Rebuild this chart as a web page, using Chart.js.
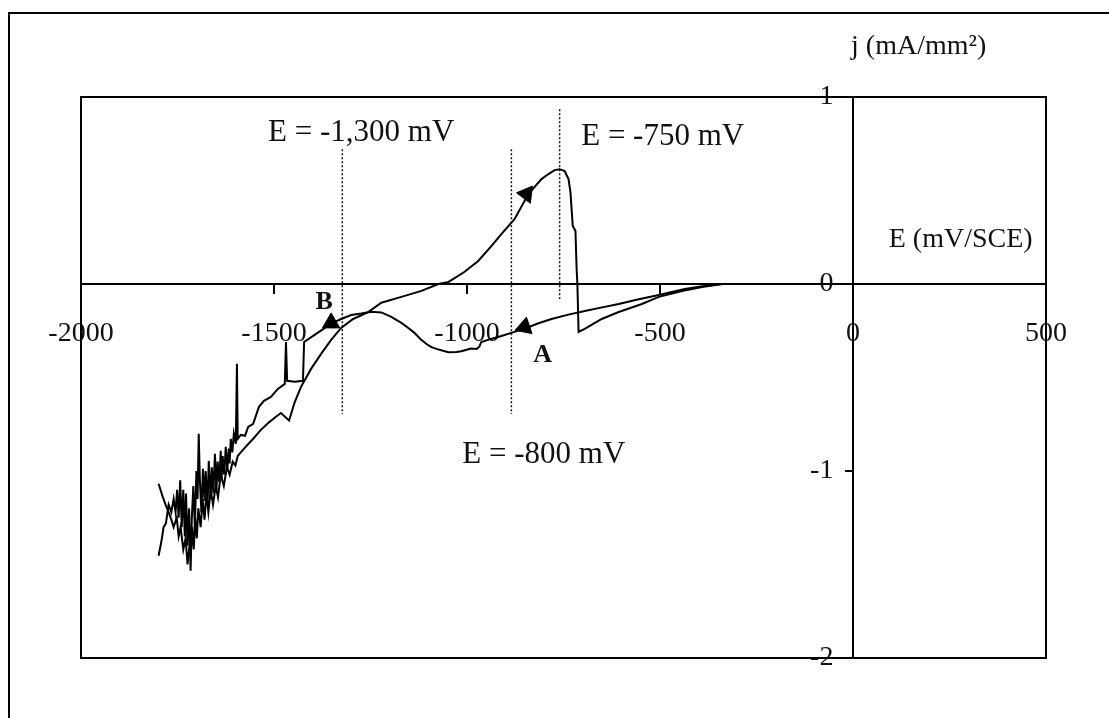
<!DOCTYPE html>
<html><head><meta charset="utf-8">
<script src="https://cdn.jsdelivr.net/npm/chart.js@4/dist/chart.umd.min.js"></script>
<style>html,body{margin:0;padding:0;background:#fff}canvas{display:block}</style>
</head><body>
<canvas id="c" width="1109" height="718"></canvas>
<script>
// ---- tick values ----
const xTickValues = [-2000, -1500, -1000, -500, 0, 500];
const yTickValues = [-2, -1, 0, 1];

// ---- forward (cathodic) scan: E in mV/SCE, j in mA/mm2 ----
const cathodicE = [-339,-390,-436,-503,-555,-607,-650,-695,-740,-781,-815,-846,-877,-911,-940,-963,-968,-975,-990,-1001,-1015,-1027,-1048,-1060,-1079,-1092,-1105,-1120,-1137,-1152,-1170,-1196,-1222,-1248,-1274,-1300,-1326,-1352,-1391,-1422,-1425,-1446,-1466,-1469,-1472,-1490,-1508,-1526,-1539,-1554,-1567,-1575,-1586,-1594,-1596,-1599,-1604,-1608,-1612,-1615,-1617,-1621,-1625,-1629,-1633,-1636,-1638,-1642,-1646,-1649,-1653,-1657,-1661,-1664,-1669,-1672,-1677,-1680,-1684,-1688,-1692,-1695,-1698,-1701,-1705,-1709,-1713,-1716,-1720,-1724,-1728,-1731,-1735,-1739,-1743,-1747,-1751,-1755,-1760,-1766,-1773,-1780,-1786,-1792,-1799];
const cathodicJ = [0,-0.012,-0.027,-0.059,-0.082,-0.107,-0.125,-0.144,-0.165,-0.187,-0.21,-0.235,-0.256,-0.278,-0.295,-0.31,-0.335,-0.347,-0.345,-0.352,-0.36,-0.363,-0.365,-0.358,-0.347,-0.338,-0.321,-0.295,-0.26,-0.235,-0.208,-0.176,-0.152,-0.148,-0.158,-0.166,-0.187,-0.212,-0.267,-0.31,-0.518,-0.523,-0.518,-0.31,-0.534,-0.561,-0.604,-0.625,-0.657,-0.748,-0.764,-0.812,-0.807,-0.828,-0.427,-0.855,-0.8,-0.9,-0.828,-0.96,-0.88,-0.99,-0.871,-1.02,-0.92,-1.05,-0.892,-1.06,-0.95,-1.1,-0.908,-1.12,-0.98,-1.15,-0.946,-1.18,-1.0,-1.16,-0.988,-1.22,-1.05,-0.801,-1.149,-1.0,-1.3,-1.08,-1.255,-1.533,-1.2,-1.4,-1.12,-1.35,-1.1,-1.3,-1.05,-1.25,-1.1,-1.22,-1.15,-1.22,-1.18,-1.28,-1.3,-1.38,-1.453];

// ---- reverse (anodic) scan ----
const anodicE = [-1799,-1794,-1788,-1781,-1773,-1766,-1760,-1752,-1747,-1742,-1735,-1729,-1724,-1719,-1716,-1712,-1708,-1704,-1700,-1696,-1690,-1685,-1680,-1675,-1670,-1664,-1658,-1651,-1645,-1638,-1630,-1622,-1615,-1607,-1600,-1594,-1586,-1573,-1555,-1534,-1513,-1495,-1482,-1461,-1446,-1430,-1404,-1378,-1352,-1326,-1295,-1256,-1222,-1170,-1118,-1074,-1048,-1007,-971,-937,-911,-877,-841,-807,-789,-773,-760,-747,-737,-732,-726,-719,-716,-714,-711,-695,-651,-607,-547,-503,-443,-391,-339];
const anodicJ = [-1.068,-1.1,-1.14,-1.18,-1.22,-1.26,-1.3,-1.25,-1.35,-1.3,-1.42,-1.36,-1.5,-1.4,-1.46,-1.3,-1.42,-1.25,-1.36,-1.2,-1.3,-1.15,-1.26,-1.12,-1.22,-1.1,-1.18,-1.08,-1.14,-1.02,-1.08,-0.98,-1.02,-0.95,-0.97,-0.92,-0.9,-0.87,-0.83,-0.78,-0.74,-0.71,-0.69,-0.73,-0.63,-0.55,-0.454,-0.374,-0.299,-0.235,-0.187,-0.15,-0.1,-0.069,-0.037,0,0.011,0.064,0.123,0.203,0.267,0.347,0.481,0.561,0.588,0.609,0.614,0.604,0.561,0.491,0.31,0.283,0.08,0,-0.256,-0.24,-0.187,-0.15,-0.107,-0.069,-0.037,-0.016,0];

// ---- scan-direction arrowheads ----
const arrowE = [-1352, -851, -846];
const arrowJ = [-0.208, -0.230, 0.481];

// ---- dotted potential markers ----
const guideE = [-1323, -885, -760];
const guideTop = [0.72, 0.72, 0.935];
const guideBottom = [-0.695, -0.695, -0.08];

// ---- text annotations ----
const noteTexts = ['E = -1,300 mV', 'E = -750 mV', 'E = -800 mV'];
const noteE = [-1274, -493, -801];
const noteJ = [0.807, 0.787, -0.913];
const pointLabels = ['B', 'A'];
const pointLabelE = [-1370, -804];
const pointLabelJ = [-0.096, -0.379];
const axisTitles = ['j (mA/mm\u00B2)', 'E (mV/SCE)'];
const axisTitleE = [170, 279];
const axisTitleJ = [1.27, 0.235];

const pts = (xs, ys) => xs.map((x, i) => ({x: x, y: ys[i]}));
const SERIF = '"Liberation Serif", "Times New Roman", serif';

const datasets = [
  {data: pts(cathodicE, cathodicJ), showLine: true, borderColor: '#000', borderWidth: 2, pointRadius: 0, tension: 0},
  {data: pts(anodicE, anodicJ), showLine: true, borderColor: '#000', borderWidth: 2, pointRadius: 0, tension: 0}
];
guideE.forEach((e, i) => {
  datasets.push({data: [{x: e, y: guideTop[i]}, {x: e, y: guideBottom[i]}], showLine: true,
    borderColor: '#111', borderWidth: 1.5, borderDash: [2, 2], pointRadius: 0});
});
datasets.push({data: pts(arrowE, arrowJ), showLine: false, pointStyle: 'triangle', pointRadius: 10,
  pointRotation: [0, 251, 37], backgroundColor: '#000', borderColor: '#000', borderWidth: 1});

const decor = {
  id: 'decor',
  beforeDatasetsDraw(chart) {
    const {ctx, chartArea: a} = chart;
    ctx.save();
    ctx.strokeStyle = '#000';
    ctx.lineWidth = 2;
    ctx.strokeRect(a.left, a.top, a.right - a.left, a.bottom - a.top);
    ctx.beginPath();
    ctx.moveTo(9, 718); ctx.lineTo(9, 13); ctx.lineTo(1109, 13);
    ctx.stroke();
    ctx.restore();
  },
  afterDraw(chart) {
    const {ctx} = chart;
    const sx = chart.scales.x, sy = chart.scales.y;
    ctx.save();
    ctx.fillStyle = '#111';
    ctx.textAlign = 'center';
    ctx.textBaseline = 'middle';
    ctx.font = '31px ' + SERIF;
    noteTexts.forEach((t, i) => ctx.fillText(t, sx.getPixelForValue(noteE[i]), sy.getPixelForValue(noteJ[i])));
    ctx.font = 'bold 26px ' + SERIF;
    pointLabels.forEach((t, i) => ctx.fillText(t, sx.getPixelForValue(pointLabelE[i]), sy.getPixelForValue(pointLabelJ[i])));
    ctx.font = '28px ' + SERIF;
    axisTitles.forEach((t, i) => ctx.fillText(t, sx.getPixelForValue(axisTitleE[i]), sy.getPixelForValue(axisTitleJ[i])));
    ctx.restore();
  }
};

new Chart(document.getElementById('c'), {
  type: 'scatter',
  data: {datasets: datasets},
  plugins: [decor],
  options: {
    responsive: false,
    animation: false,
    events: [],
    layout: {padding: {left: 81, top: 97, right: 63, bottom: 60}},
    plugins: {legend: {display: false}, tooltip: {enabled: false}},
    scales: {
      x: {
        type: 'linear', min: -2000, max: 500, position: {y: 0},
        afterFit: s => { s.height = 0; },
        afterBuildTicks: s => { s.ticks = xTickValues.map(v => ({value: v})); },
        grid: {display: true, drawOnChartArea: false, drawTicks: true, tickLength: 9, color: '#000', lineWidth: 2},
        border: {display: true, color: '#000', width: 2},
        ticks: {color: '#111', font: {family: SERIF, size: 28}, padding: 24, maxRotation: 0, autoSkip: false,
          callback: v => String(v)}
      },
      y: {
        type: 'linear', min: -2, max: 1, position: {x: 0},
        afterFit: s => { s.width = 0; },
        afterBuildTicks: s => { s.ticks = yTickValues.map(v => ({value: v})); },
        grid: {display: true, drawOnChartArea: false, drawTicks: true, tickLength: 7, color: '#000', lineWidth: 2},
        border: {display: true, color: '#000', width: 2},
        ticks: {color: '#111', font: {family: SERIF, size: 28}, padding: 12, autoSkip: false,
          // trailing spaces keep the label clear of the axis line (labels are right-aligned on it)
          callback: v => String(v) + '\u2002\u2009'}
      }
    }
  }
});
</script>
</body></html>
